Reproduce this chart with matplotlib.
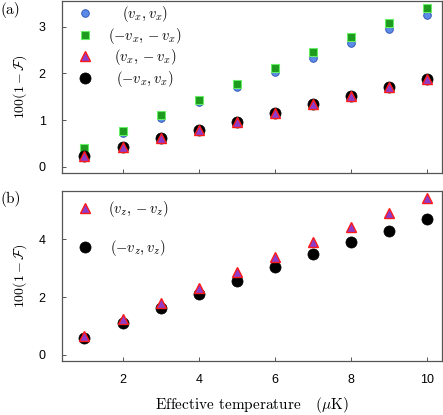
import matplotlib
matplotlib.use("Agg")
import matplotlib.pyplot as plt
import numpy as np

plt.rcParams['mathtext.fontset'] = 'cm'
plt.rcParams['font.family'] = ['Liberation Sans', 'DejaVu Sans']

temps = [1, 2, 3, 4, 5, 6, 7, 8, 9, 10]

# panel (a)
vx_vx = [0.40, 0.73, 1.05, 1.38, 1.70, 2.04, 2.34, 2.66, 2.95, 3.26]
mvx_mvx = [0.41, 0.76, 1.10, 1.44, 1.77, 2.12, 2.45, 2.78, 3.09, 3.40]
vx_mvx = [0.24, 0.43, 0.62, 0.79, 0.96, 1.16, 1.34, 1.52, 1.70, 1.89]
mvx_vx = [0.24, 0.43, 0.61, 0.79, 0.96, 1.16, 1.34, 1.52, 1.70, 1.89]

# panel (b)
vz_mvz = [0.67, 1.24, 1.79, 2.33, 2.86, 3.39, 3.91, 4.41, 4.92, 5.42]
mvz_vz = [0.60, 1.12, 1.61, 2.10, 2.56, 3.04, 3.48, 3.92, 4.30, 4.69]

labels_a = [r'$(v_x,v_x)$', r'$(-v_x,-v_x)$', r'$(v_x,-v_x)$', r'$(-v_x,v_x)$']
labels_b = [r'$(v_z,-v_z)$', r'$(-v_z,v_z)$']

xticks = [2, 4, 6, 8, 10]
yticks_a = [0, 1, 2, 3]
yticks_b = [0, 2, 4]

fig = plt.figure(figsize=(4.43, 4.15), dpi=100)
ax1 = fig.add_axes([0.1406, 0.583, 0.857, 0.4145])
ax2 = fig.add_axes([0.1406, 0.130, 0.857, 0.4096])

spine_col = '#555555'

blue = dict(marker='o', ls='none', ms=5.5, mfc='#5b8ae8', mec='#2a4fb0', mew=0.6)
green = dict(marker='s', ls='none', ms=5.3, mfc='#1e9a1e', mec='#66ee66', mew=0.8)
tri = dict(marker='^', ls='none', ms=7, mfc='#8e3cc8', mec='#ff1a1a', mew=1.0)
blk = dict(marker='o', ls='none', ms=8, mfc='black', mec='black', mew=0.5)

h1, = ax1.plot(temps, vx_vx, zorder=3, **blue)
h2, = ax1.plot(temps, mvx_mvx, zorder=4, **green)
h4, = ax1.plot(temps, mvx_vx, zorder=5, **blk)
h3, = ax1.plot(temps, vx_mvx, zorder=6, **tri)

g4, = ax2.plot(temps, mvz_vz, zorder=5, **blk)
g3, = ax2.plot(temps, vz_mvz, zorder=6, **tri)

leg_fs = 10.5
leg1 = ax1.legend([h1, h2, h3, h4], labels_a, loc='upper left', frameon=False,
                  fontsize=leg_fs, handletextpad=1.1, labelspacing=0.1,
                  borderaxespad=0.0, borderpad=0.4, handlelength=1.0,
                  bbox_to_anchor=(0.024, 1.014))
leg2 = ax2.legend([g3, g4], labels_b, loc='upper left', frameon=False,
                  fontsize=leg_fs, handletextpad=1.1, labelspacing=1.3,
                  borderaxespad=0.0, borderpad=0.4, handlelength=1.0,
                  bbox_to_anchor=(0.024, 0.985))

for ax in (ax1, ax2):
    ax.set_xlim(0.42, 10.38)
    ax.set_xticks(xticks)
    for s in ax.spines.values():
        s.set_color(spine_col)
        s.set_linewidth(0.9)
    ax.tick_params(direction='in', length=3, width=0.7, color=spine_col,
                   labelsize=9, top=False, right=False)
    ax.tick_params(axis='y', pad=12)
    ax.tick_params(axis='x', pad=9)
    ax.set_ylabel(r'$100(1-\mathcal{F})$', fontsize=10, labelpad=7)

ax1.set_ylim(-0.135, 3.55)
ax1.set_yticks(yticks_a)
ax1.tick_params(axis='x', labelbottom=False)
ax2.set_ylim(-0.21, 5.67)
ax2.set_yticks(yticks_b)
ax2.set_xlabel(r'Effective temperature   ($\mu$K)', fontsize=11, family='cmr10', labelpad=7)

fig.text(0.0, 0.995, '(a)', fontsize=11, family='cmr10', va='top', ha='left')
fig.text(0.0, 0.54, '(b)', fontsize=11, family='cmr10', va='top', ha='left')

# centre the legend labels within their column, as in the reference
fig.canvas.draw()
for leg in (leg1, leg2):
    texts = leg.get_texts()
    widths = [t.get_window_extent().width for t in texts]
    wmax = max(widths)
    for t, w in zip(texts, widths):
        t.set_x((wmax - w) / 2.0)

fig.savefig('out.png', dpi=100)
